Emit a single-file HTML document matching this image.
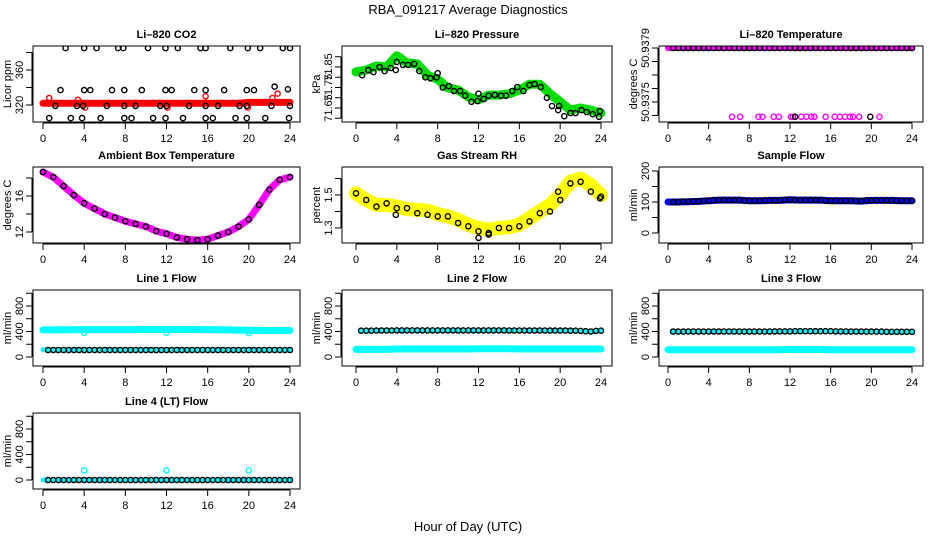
<!DOCTYPE html>
<html><head><meta charset="utf-8"><style>
html,body{margin:0;padding:0;background:#fff}
svg{display:block}
text{font-family:"Liberation Sans",Arial,sans-serif;fill:#000}
</style></head><body>
<svg id="chart" width="936" height="540" viewBox="0 0 936 540" xmlns="http://www.w3.org/2000/svg">
<text x="468" y="14" text-anchor="middle" font-size="13">RBA_091217  Average Diagnostics</text>
<text x="468" y="531" text-anchor="middle" font-size="13">Hour of Day (UTC)</text>
</svg>
<script>
const xTicks = [0,4,8,12,16,20,24];
const hours = [0,1,2,3,4,5,6,7,8,9,10,11,12,13,14,15,16,17,18,19,20,21,22,23,24];
const halfHours = [0.5,1,1.5,2,2.5,3,3.5,4,4.5,5,5.5,6,6.5,7,7.5,8,8.5,9,9.5,10,10.5,11,11.5,12,12.5,13,13.5,14,14.5,15,15.5,16,16.5,17,17.5,18,18.5,19,19.5,20,20.5,21,21.5,22,22.5,23,23.5,24];

// CO2
const co2Band = [322,322,322,322,322,322,322,322,322,322,322,322,322,322,322,322,322,322,322,322,323,323,323,323,323];
const co2RedHours = [0.6,3.4,4.1,12.1,15.8,19.9,22.3,22.8];
const co2RedVals = [328,326,317,317,330,317,328,333];
const co2BlackHours = [2.2,4.0,5.2,7.3,7.8,10.2,11.9,13.1,15.3,15.8,18.2,19.9,21.1,23.3,24.0,
 1.7,4.0,4.6,6.7,7.9,9.6,11.9,12.5,14.7,15.8,17.6,19.8,20.5,22.5,23.8,
 1.2,3.3,3.9,6.2,7.9,9.0,11.4,12.0,14.2,15.8,17.0,19.1,19.8,22.2,24.0,
 0.6,2.7,3.8,5.6,7.9,8.6,10.7,11.9,13.6,15.8,16.5,18.7,19.8,21.6,23.9];
const co2BlackVals = [385,385,385,385,385,385,385,385,385,385,385,385,385,385,385,
 337,337,337,337,337,337,337,337,337,337,337,337,337,341,338,
 319,319,319,319,319,319,319,319,319,319,319,319,319,319,319,
 305,305,305,305,305,305,305,305,305,305,305,305,305,305,305];

// Pressure
const presBand = [71.826,71.835,71.855,71.85,71.905,71.87,71.865,71.81,71.79,71.748,71.738,71.704,71.69,71.713,71.713,71.72,71.737,71.766,71.766,71.72,71.68,71.64,71.65,71.64,71.625];
const presBlackHours = [0.6,1.2,1.7,2.3,2.8,3.4,3.9,4.0,4.6,5.1,5.7,6.2,6.8,7.3,7.9,8.0,8.5,9.1,9.6,10.2,10.7,11.3,11.9,12.0,12.5,13.0,13.6,14.2,14.7,15.3,15.8,16.4,17.0,17.5,18.1,18.7,19.2,19.8,19.9,20.4,21.0,21.5,22.1,22.6,23.2,23.8,23.9];
const presBlackVals = [71.81,71.835,71.825,71.85,71.83,71.845,71.835,71.875,71.86,71.86,71.865,71.83,71.8,71.795,71.8,71.82,71.75,71.757,71.733,71.733,71.71,71.68,71.684,71.72,71.694,71.71,71.714,71.71,71.71,71.733,71.752,71.733,71.762,71.767,71.752,71.7,71.66,71.64,71.66,71.61,71.625,71.625,71.64,71.63,71.62,71.607,71.635];

// Li-820 temperature
const tempTopBand = [50.9379,50.9379,50.9379,50.9379,50.9379,50.9379,50.9379,50.9379,50.9379,50.9379,50.9379,50.9379,50.9379,50.9379,50.9379,50.9379,50.9379,50.9379,50.9379,50.9379,50.9379,50.9379,50.9379,50.9379,50.9379];
const tempLowHours = [6.3,7.1,8.9,9.3,10.4,10.9,12.1,12.3,13.1,13.6,14.1,14.4,15.5,16.4,16.9,17.4,17.9,18.2,18.8,20.8];
const tempLowVals = [50.93739,50.93739,50.93739,50.93739,50.93739,50.93739,50.93739,50.93739,50.93739,50.93739,50.93739,50.93739,50.93739,50.93739,50.93739,50.93739,50.93739,50.93739,50.93739,50.93739];
const tempBlack = halfHours.map(()=>50.9379);
const tempBlackLowHours = [12.5,19.9];
const tempBlackLowVals = [50.93739,50.93739];

// Ambient box temperature
const ambBand = [18.67,18.1,17.1,16.1,15.2,14.6,14.0,13.6,13.2,12.9,12.6,12.1,11.8,11.4,11.2,11.1,11.2,11.6,12.0,12.6,13.4,15.0,16.7,17.8,18.1];

// Gas stream RH
const rhBand = [1.51,1.47,1.44,1.44,1.43,1.415,1.41,1.405,1.385,1.37,1.35,1.32,1.30,1.29,1.30,1.305,1.32,1.36,1.40,1.44,1.50,1.58,1.60,1.56,1.50];
const rhBlack = [1.51,1.47,1.43,1.45,1.42,1.42,1.39,1.38,1.37,1.37,1.33,1.31,1.28,1.27,1.30,1.30,1.31,1.34,1.39,1.40,1.47,1.57,1.58,1.52,1.49];
const rhExtraHours = [3.9,12.0,13.0,19.8,23.9];
const rhExtraVals = [1.38,1.24,1.26,1.52,1.48];

// Sample flow
const sampleBand = [100,100,101,102,104,106,106,106,104,104,105,105,107,106,106,106,104,104,104,103,105,105,105,104,104];

// Line flows
const line1High = [425,425,428,428,430,430,430,430,430,430,432,432,432,432,432,430,430,428,425,422,420,418,416,415,415];
const line1Low = [115,115,115,115,115,115,115,115,115,115,115,115,115,115,115,115,115,115,115,115,115,115,115,115,115];
const line1DipHours = [4,12,20];
const line1DipVals = [380,380,375];
const line1Black = halfHours.map(()=>110);
const line2Low = [120,120,120,120,125,125,125,125,125,125,125,125,130,130,130,130,125,125,125,125,125,125,125,125,125];
const line2Black = [412,412,412,414,415,416,416,418,418,418,418,418,418,418,418,418,418,418,418,418,418,418,418,418,418,418,418,418,418,416,416,416,416,416,416,416,416,414,414,414,414,412,412,410,405,400,410,412];
const line3Low = [115,115,115,115,115,115,115,115,115,115,115,115,118,118,118,118,115,115,115,115,115,115,115,115,115];
const line3Black = [400,398,398,400,400,400,400,400,400,400,400,400,400,400,400,400,400,400,400,400,402,402,402,402,405,405,405,405,405,405,405,405,402,402,400,400,400,400,398,398,398,398,396,396,396,396,396,396];
const line4Band = [0,0,0,0,0,0,0,0,0,0,0,0,0,0,0,0,0,0,0,0,0,0,0,0,0];
const line4SpikeHours = [4,12,20];
const line4SpikeVals = [150,150,150];
const line4Black = halfHours.map(()=>0);

const NS = "http://www.w3.org/2000/svg";
const svg = document.getElementById('chart');
const cols = [{bl:33,br:300,x0:43,x24:290},{bl:342,br:612,x0:356,x24:601},{bl:659,br:923,x0:668,x24:912}];
const rowTops = [46,167,290,413];
const H = 76;

function el(tag, attrs, parent){
  const e = document.createElementNS(NS, tag);
  for (const k in attrs) e.setAttribute(k, attrs[k]);
  (parent||svg).appendChild(e);
  return e;
}

function panel(p){
  const c = cols[p.col], top = rowTops[p.row], bot = top + H;
  const g = el('g', {});
  
  
  const xs = h => c.x0 + (h/24)*(c.x24 - c.x0);
  const ys = v => p.pA + (v - p.vA)*(p.pB - p.pA)/(p.vB - p.vA);
  const clip = el('clipPath', {id:'clip-'+p.name}, g);
  el('rect', {x:c.bl, y:top, width:c.br-c.bl, height:H}, clip);
  const plot = el('g', {'clip-path':'url(#clip-'+p.name+')'}, g);
  
  
  p.draw(plot, xs, ys);
  const box = el('rect', {x:c.bl, y:top, width:c.br-c.bl, height:H, fill:'none', stroke:'#000', 'stroke-width':1}, g);
  
  
  const t = el('text', {x:(c.bl+c.br)/2, y:top-8, 'text-anchor':'middle', 'font-size':11, 'font-weight':'bold'}, g);
  t.textContent = p.title;
  
  
  const xa = el('g', {}, g);
  
  
  el('line', {x1:xs(xTicks[0]), x2:xs(xTicks[xTicks.length-1]), y1:bot+1, y2:bot+1, stroke:'#000'}, xa);
  xTicks.forEach(v => {
    el('line', {x1:xs(v), x2:xs(v), y1:bot+1, y2:bot+7, stroke:'#000'}, xa);
    const tl = el('text', {x:xs(v), y:bot+20, 'text-anchor':'middle', 'font-size':11}, xa);
    tl.textContent = v;
    
    
  });
  const ya = el('g', {}, g);
  
  
  const yt = p.yTicks;
  el('line', {x1:c.bl-1, x2:c.bl-1, y1:ys(yt[0]), y2:ys(yt[yt.length-1]), stroke:'#000'}, ya);
  yt.forEach(v => el('line', {x1:c.bl-7, x2:c.bl-1, y1:ys(v), y2:ys(v), stroke:'#000'}, ya));
  p.yLabels.forEach((lab, i) => {
    const y = ys(p.yLabelVals[i]);
    const tl = el('text', {x:0, y:0, 'text-anchor':'middle', 'font-size':11, transform:'translate('+(c.bl-10)+','+y+') rotate(-90)'}, ya);
    tl.textContent = lab;
    
    
  });
  const yl = el('text', {x:0, y:0, 'text-anchor':'middle', 'font-size':11, transform:'translate('+(c.bl-22)+','+(top+H/2)+') rotate(-90)'}, g);
  yl.textContent = p.ylab;
  
  
}

function band(parent, xs, ys, hArr, vArr, color, w, name){
  const d = hArr.map((h,i)=>(i?'L':'M')+xs(h).toFixed(1)+','+ys(vArr[i]).toFixed(1)).join(' ');
  const path = el('path', {d:d, fill:'none', stroke:color, 'stroke-width':w, 'stroke-linecap':'round', 'stroke-linejoin':'round'}, parent);
  
  
}
function pts(parent, xs, ys, hArr, vArr, color, name){
  hArr.forEach((h,i)=>{
    const ci = el('circle', {cx:xs(h).toFixed(1), cy:ys(vArr[i]).toFixed(1), r:2.6, fill:'none', stroke:color, 'stroke-width':1.4}, parent);
    
    
  });
}
const flowTicks = [0,200,400,600,800,1000];
const flowLabVals = [0,400,800];
const flowLabs = ['0','400','800'];

panel({name:'co2', col:0, row:0, title:'Li\u2013820 CO2', ylab:'Licor ppm', vA:320, pA:105, vB:360, pB:70,
  yTicks:[320,340,360,380], yLabelVals:[320,360], yLabels:['320','360'],
  draw:(g,xs,ys)=>{ band(g,xs,ys,hours,co2Band,'#ff0000',7,'co2-red-band'); pts(g,xs,ys,co2RedHours,co2RedVals,'#ff0000','co2-red-point'); pts(g,xs,ys,co2BlackHours,co2BlackVals,'#000','co2-black-point'); }});
panel({name:'pressure', col:1, row:0, title:'Li\u2013820 Pressure', ylab:'kPa', vA:71.65, pA:108, vB:71.85, pB:67,
  yTicks:[71.60,71.65,71.70,71.75,71.80,71.85,71.90], yLabelVals:[71.65,71.75,71.85], yLabels:['71.65','71.75','71.85'],
  draw:(g,xs,ys)=>{ band(g,xs,ys,hours,presBand,'#00dd00',9,'pressure-green-band'); pts(g,xs,ys,presBlackHours,presBlackVals,'#000','pressure-black-point'); }});
panel({name:'li820-temp', col:2, row:0, title:'Li\u2013820 Temperature', ylab:'degrees C', vA:50.9375, pA:102, vB:50.9379, pB:48,
  yTicks:[50.9374,50.9375,50.9376,50.9377,50.9378,50.9379], yLabelVals:[50.9375,50.9379], yLabels:['50.9375','50.9379'],
  draw:(g,xs,ys)=>{ band(g,xs,ys,hours,tempTopBand,'#ff00ff',6,'temp-magenta-band'); pts(g,xs,ys,tempLowHours,tempLowVals,'#ff00ff','temp-magenta-point'); pts(g,xs,ys,halfHours,tempBlack,'#000','temp-black-point'); pts(g,xs,ys,tempBlackLowHours,tempBlackLowVals,'#000','temp-black-point'); }});
panel({name:'ambient', col:0, row:1, title:'Ambient Box Temperature', ylab:'degrees C', vA:12, pA:232, vB:16, pB:196,
  yTicks:[12,14,16,18], yLabelVals:[12,16], yLabels:['12','16'],
  draw:(g,xs,ys)=>{ band(g,xs,ys,hours,ambBand,'#ff00ff',7,'ambient-magenta-band'); pts(g,xs,ys,hours,ambBand,'#000','ambient-black-point'); }});
panel({name:'rh', col:1, row:1, title:'Gas Stream RH', ylab:'percent', vA:1.3, pA:228, vB:1.5, pB:195,
  yTicks:[1.3,1.4,1.5,1.6], yLabelVals:[1.3,1.5], yLabels:['1.3','1.5'],
  draw:(g,xs,ys)=>{ band(g,xs,ys,hours,rhBand,'#ffff00',14,'rh-yellow-band'); pts(g,xs,ys,hours,rhBlack,'#000','rh-black-point'); pts(g,xs,ys,rhExtraHours,rhExtraVals,'#000','rh-black-point'); }});
panel({name:'sample-flow', col:2, row:1, title:'Sample Flow', ylab:'ml/min', vA:0, pA:233, vB:200, pB:171,
  yTicks:[0,50,100,150,200], yLabelVals:[0,100,200], yLabels:['0','100','200'],
  draw:(g,xs,ys)=>{ band(g,xs,ys,hours,sampleBand,'#0000ff',7,'sample-blue-band'); pts(g,xs,ys,halfHours,halfHours.map((h,i)=>sampleBand[Math.round(h)]),'#000','sample-black-point'); }});
panel({name:'line1', col:0, row:2, title:'Line 1 Flow', ylab:'ml/min', vA:0, pA:357, vB:800, pB:306,
  yTicks:flowTicks, yLabelVals:flowLabVals, yLabels:flowLabs,
  draw:(g,xs,ys)=>{ band(g,xs,ys,hours,line1High,'#00ffff',7,'line1-cyan-high-band'); band(g,xs,ys,hours,line1Low,'#00ffff',5,'line1-cyan-low-band'); pts(g,xs,ys,line1DipHours,line1DipVals,'#00ffff','line1-cyan-point'); pts(g,xs,ys,halfHours,line1Black,'#000','line1-black-point'); }});
panel({name:'line2', col:1, row:2, title:'Line 2 Flow', ylab:'ml/min', vA:0, pA:357, vB:800, pB:306,
  yTicks:flowTicks, yLabelVals:flowLabVals, yLabels:flowLabs,
  draw:(g,xs,ys)=>{ band(g,xs,ys,hours,line2Low,'#00ffff',7,'line2-cyan-band'); band(g,xs,ys,halfHours,line2Black,'#00ffff',5,'line2-cyan-high-band'); pts(g,xs,ys,halfHours,line2Black,'#000','line2-black-point'); }});
panel({name:'line3', col:2, row:2, title:'Line 3 Flow', ylab:'ml/min', vA:0, pA:357, vB:800, pB:306,
  yTicks:flowTicks, yLabelVals:flowLabVals, yLabels:flowLabs,
  draw:(g,xs,ys)=>{ band(g,xs,ys,hours,line3Low,'#00ffff',7,'line3-cyan-band'); band(g,xs,ys,halfHours,line3Black,'#00ffff',5,'line3-cyan-high-band'); pts(g,xs,ys,halfHours,line3Black,'#000','line3-black-point'); }});
panel({name:'line4', col:0, row:3, title:'Line 4 (LT) Flow', ylab:'ml/min', vA:0, pA:480, vB:800, pB:429,
  yTicks:flowTicks, yLabelVals:flowLabVals, yLabels:flowLabs,
  draw:(g,xs,ys)=>{ band(g,xs,ys,hours,line4Band,'#00ffff',5,'line4-cyan-band'); pts(g,xs,ys,line4SpikeHours,line4SpikeVals,'#00ffff','line4-cyan-point'); pts(g,xs,ys,halfHours,line4Black,'#000','line4-black-point'); }});
</script>
</body></html>
